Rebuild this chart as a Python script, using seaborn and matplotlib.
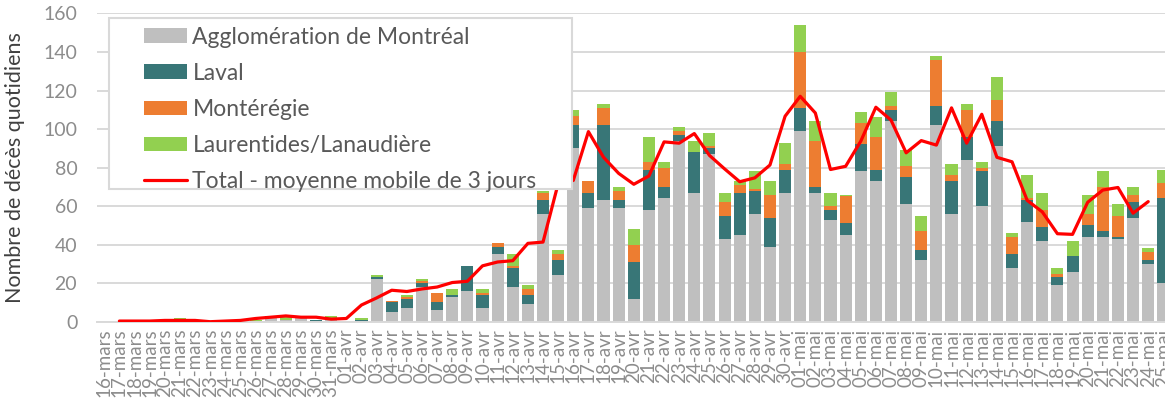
import numpy as np
import pandas as pd
import seaborn as sns
import matplotlib
matplotlib.use('Agg')
import matplotlib.pyplot as plt
from matplotlib.patches import Patch, Rectangle
from matplotlib.lines import Line2D

# daily deaths per region, 16 March -> 25 May
dates = ['16-mars', '17-mars', '18-mars', '19-mars', '20-mars', '21-mars', '22-mars', '23-mars',
         '24-mars', '25-mars', '26-mars', '27-mars', '28-mars', '29-mars', '30-mars', '31-mars',
         '01-avr', '02-avr', '03-avr', '04-avr', '05-avr', '06-avr', '07-avr', '08-avr', '09-avr',
         '10-avr', '11-avr', '12-avr', '13-avr', '14-avr', '15-avr', '16-avr', '17-avr', '18-avr',
         '19-avr', '20-avr', '21-avr', '22-avr', '23-avr', '24-avr', '25-avr', '26-avr', '27-avr',
         '28-avr', '29-avr', '30-avr',
         '01-mai', '02-mai', '03-mai', '04-mai', '05-mai', '06-mai', '07-mai', '08-mai', '09-mai',
         '10-mai', '11-mai', '12-mai', '13-mai', '14-mai', '15-mai', '16-mai', '17-mai', '18-mai',
         '19-mai', '20-mai', '21-mai', '22-mai', '23-mai', '24-mai', '25-mai']

montreal = [0, 0, 1, 0, 0, 0, 0, 0, 0, 1, 0, 2, 1, 2, 0, 1,
            0, 0, 22, 5, 7, 18, 6, 13, 16, 7, 35, 18, 9, 56, 24, 90, 59, 63, 59, 12,
            58, 64, 94, 67, 87, 43, 45, 56, 39, 67,
            99, 67, 53, 45, 78, 73, 104, 61, 32, 102, 56, 84, 60, 91, 28, 52, 42, 19,
            26, 44, 44, 43, 54, 30, 20]
laval = [0, 0, 0, 0, 0, 0, 0, 0, 0, 0, 0, 1, 0, 1, 1, 0,
         0, 1, 1, 5, 5, 2, 4, 1, 13, 7, 4, 10, 5, 7, 8, 12, 8, 39, 4, 19,
         21, 6, 3, 21, 3, 12, 22, 12, 15, 12,
         12, 3, 5, 6, 14, 6, 6, 14, 5, 10, 17, 12, 18, 13, 7, 11, 7, 4,
         8, 6, 3, 1, 8, 2, 44]
monteregie = [0, 0, 0, 0, 0, 0, 0, 0, 0, 0, 0, 0, 0, 0, 0, 0,
              0, 0, 0, 1, 1, 1, 5, 0, 0, 1, 2, 1, 3, 4, 3, 5, 6, 9, 5, 9,
              4, 10, 2, 0, 1, 7, 4, 1, 12, 3,
              29, 24, 2, 14, 11, 17, 2, 6, 10, 24, 3, 14, 2, 11, 9, 1, 9, 2,
              0, 6, 23, 11, 4, 4, 8]
laurentides = [0, 0, 0, 0, 0, 2, 0, 0, 0, 0, 1, 0, 2, 0, 0, 2,
               0, 1, 1, 0, 1, 1, 0, 3, 0, 2, 0, 6, 2, 1, 2, 3, 0, 2, 2, 8,
               13, 3, 2, 6, 7, 5, 2, 9, 7, 11,
               14, 10, 7, 1, 6, 10, 7, 8, 8, 2, 6, 3, 3, 12, 2, 12, 9, 3,
               8, 10, 8, 6, 4, 2, 7]

names = ['Agglomération de Montréal', 'Laval', 'Montérégie', 'Laurentides/Lanaudière']
colors = ['#BFBFBF', '#387677', '#ED7D31', '#92D050']

sns.set_style('white')
plt.rcParams['font.family'] = ['Lato', 'DejaVu Sans']

fig = plt.figure(figsize=(11.65, 4), dpi=100)
ax = fig.add_axes([96.7/1165, 78.3/400, 1074.2/1165, 309/400])

series = [montreal, laval, monteregie, laurentides]
bottom = np.zeros(len(dates))
for vals, col in zip(series, colors):
    sns.barplot(x=dates, y=vals, order=dates, bottom=bottom, color=col, saturation=1,
                width=0.8, linewidth=0, errorbar=None, ax=ax)
    bottom = bottom + np.array(vals)

# 3-day centred moving average of the total
total = pd.Series(bottom)
ma = pd.DataFrame({'pos': np.arange(len(dates)), 'ma': total.rolling(3, center=True).mean()}).dropna()
sns.lineplot(data=ma, x='pos', y='ma', color='#FF0000', lw=2.3, ax=ax, zorder=3)

ax.set_xlim(-0.5, len(dates) - 0.5)
ax.set_ylim(0, 160.4)
ax.set_yticks(range(0, 161, 20))
ax.yaxis.grid(True, color='#D9D9D9', lw=1.4)
ax.set_axisbelow(True)
for s in ['top', 'right', 'left']:
    ax.spines[s].set_visible(False)
ax.spines['bottom'].set_color('#D9D9D9')
ax.spines['bottom'].set_linewidth(1.4)

ax.set_xticks(range(len(dates)))
ax.set_xticklabels(dates, rotation=90, fontsize=13.5, color='#8C8C8C')
ax.set_xticks(np.arange(-0.5, len(dates), 1), minor=True)
ax.tick_params(axis='x', which='major', length=0, pad=5)
ax.tick_params(axis='x', which='minor', length=5, color='#D9D9D9', width=1.2)
ax.tick_params(axis='y', length=0, pad=14, labelsize=14, labelcolor='#8C8C8C')
ax.set_xlabel('')
ax.set_ylabel('Nombre de décès quotidiens', fontsize=15.5, color='#404040')
ax.yaxis.set_label_coords(-0.067, 0.5)

ax.add_patch(Rectangle((0.0117, 0.4285), 0.4305, 0.5534, transform=ax.transAxes,
                       facecolor='white', edgecolor='#D9D9D9', lw=1.5, zorder=4))
handles = [Patch(facecolor=c, edgecolor='none') for c in colors]
handles.append(Line2D([], [], color='#FF0000', lw=2.3))
leg = ax.legend(handles, names + ['Total - moyenne mobile de 3 jours'], loc='upper left',
                bbox_to_anchor=(0.0443, 0.955), frameon=False, fontsize=16.5, borderpad=0,
                handlelength=1.85, handleheight=0.6, handletextpad=0.25, labelspacing=0.66,
                borderaxespad=0)
leg.set_zorder(5)
for t in leg.get_texts():
    t.set_color('#595959')

fig.savefig('out.png', dpi=100)
